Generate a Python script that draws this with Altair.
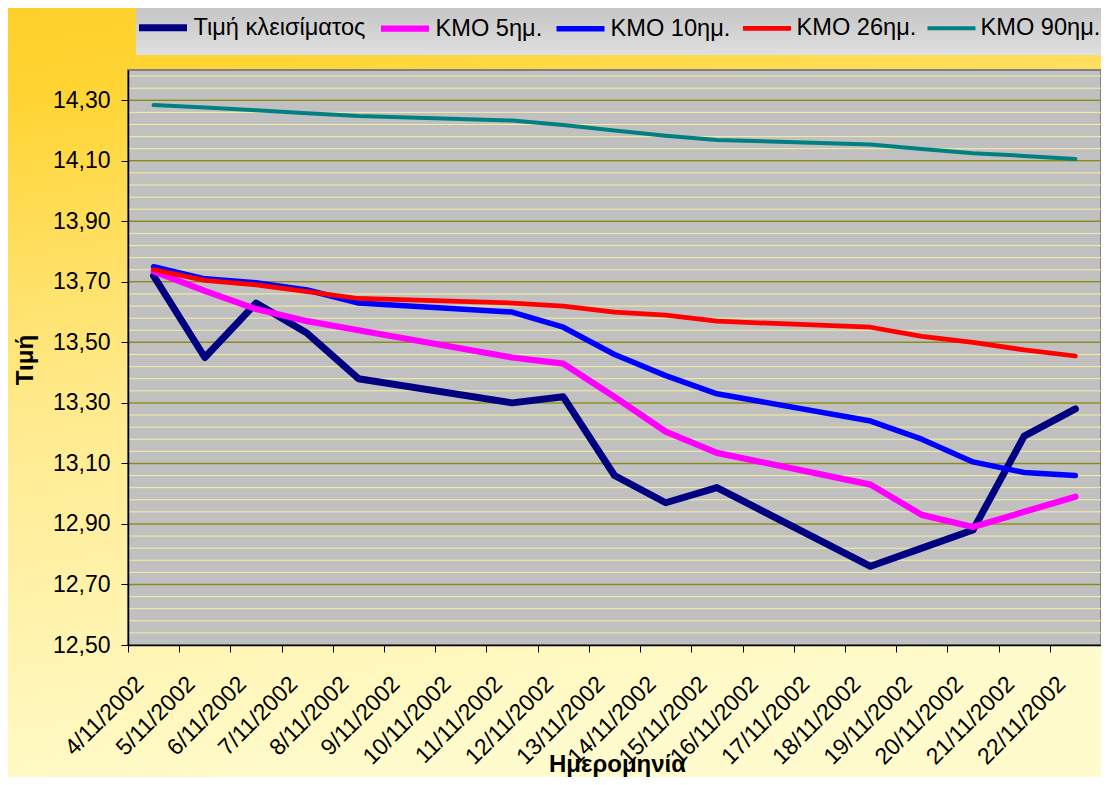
import altair as alt
import pandas as pd

all_dates = ["4/11/2002", "5/11/2002", "6/11/2002", "7/11/2002", "8/11/2002",
             "9/11/2002", "10/11/2002", "11/11/2002", "12/11/2002", "13/11/2002",
             "14/11/2002", "15/11/2002", "16/11/2002", "17/11/2002", "18/11/2002",
             "19/11/2002", "20/11/2002", "21/11/2002", "22/11/2002"]
trade_dates = ["4/11/2002", "5/11/2002", "6/11/2002", "7/11/2002", "8/11/2002",
               "11/11/2002", "12/11/2002", "13/11/2002", "14/11/2002", "15/11/2002",
               "18/11/2002", "19/11/2002", "20/11/2002", "21/11/2002", "22/11/2002"]
series_names = ["Τιμή κλεισίματος", "ΚΜΟ 5ημ.", "ΚΜΟ 10ημ.", "ΚΜΟ 26ημ.", "ΚΜΟ 90ημ."]
series_colors = ["#000080", "#FF00FF", "#0000FF", "#FF0000", "#008080"]
series_widths = [7, 4, 4, 4, 4.5]

close = [13.72, 13.45, 13.63, 13.53, 13.38, 13.30, 13.32, 13.06, 12.97, 13.02,
         12.76, 12.82, 12.88, 13.19, 13.28]
kmo5 = [13.735, 13.67, 13.61, 13.57, 13.54, 13.45, 13.43, 13.32, 13.205, 13.135,
        13.03, 12.93, 12.89, 12.94, 12.99]
kmo10 = [13.75, 13.71, 13.697, 13.673, 13.63, 13.60, 13.55, 13.46, 13.39, 13.33,
         13.24, 13.18, 13.105, 13.07, 13.06]
kmo26 = [13.74, 13.705, 13.69, 13.668, 13.645, 13.63, 13.62, 13.60, 13.59, 13.57,
         13.55, 13.52, 13.50, 13.475, 13.455]
kmo90 = [14.284, 14.276, 14.267, 14.257, 14.248, 14.233, 14.218, 14.20, 14.183, 14.169,
         14.154, 14.139, 14.125, 14.116, 14.106]

major_ticks = [12.5, 12.7, 12.9, 13.1, 13.3, 13.5, 13.7, 13.9, 14.1, 14.3]
minor_ticks = [round(12.5 + 0.04 * i, 2) for i in range(1, 48)]

rows = []
for name, vals in zip(series_names, [close, kmo5, kmo10, kmo26, kmo90]):
    for d, v in zip(trade_dates, vals):
        rows.append({"date": d, "series": name, "value": v})
df = pd.DataFrame(rows)

W, H = 973, 575
one = pd.DataFrame({"a": [0]})

bg = alt.Chart(one).mark_rect(
    fill=alt.Gradient(gradient="linear",
                      stops=[alt.GradientStop(offset=0, color="#FFCF28"),
                             alt.GradientStop(offset=0.12, color="#FFD432"),
                             alt.GradientStop(offset=0.5, color="#FFEA8C"),
                             alt.GradientStop(offset=1, color="#FFFBCC")],
                      x1=0, y1=0, x2=0.25, y2=1)
).encode(x=alt.value(-130), x2=alt.value(W + 10), y=alt.value(-70), y2=alt.value(H + 140))

legend_box = alt.Chart(one).mark_rect(
    fill=alt.Gradient(gradient="linear",
                      stops=[alt.GradientStop(offset=0, color="#C2C2C2"),
                             alt.GradientStop(offset=1, color="#E0E0E0")],
                      x1=0, y1=0, x2=0, y2=1)
).encode(x=alt.value(8), x2=alt.value(W + 20), y=alt.value(-67), y2=alt.value(-15))

plot_bg = alt.Chart(one).mark_rect(fill="#C0C0C0", stroke="#808080", strokeWidth=2).encode(
    x=alt.value(0), x2=alt.value(W), y=alt.value(0), y2=alt.value(H))

yscale = alt.Scale(domain=[12.5, 14.4], nice=False, zero=False)
yaxis = alt.Axis(title="Τιμή", values=major_ticks,
                 labelExpr="replace(format(datum.value, '.2f'), '.', ',')",
                 labelFontSize=23, labelFont="Liberation Sans", labelColor="#000000",
                 labelPadding=11, tickSize=7, tickColor="#000000",
                 domainColor="#000000", domainWidth=1.5, grid=False,
                 titleFontSize=24, titleFont="Liberation Sans", titleFontWeight="bold",
                 titleColor="#000000", titleX=-103, titleY=H / 2 + 2, titleAngle=270,
                 titleAlign="center", titleBaseline="middle", zindex=1)

minor = alt.Chart(pd.DataFrame({"v": minor_ticks})).mark_rule(
    color="#F4F0A0", strokeWidth=1).encode(y=alt.Y("v:Q", scale=yscale, axis=yaxis, title="Τιμή"))
major = alt.Chart(pd.DataFrame({"v": major_ticks[1:]})).mark_rule(
    color="#8A8A22", strokeWidth=1.5).encode(y=alt.Y("v:Q", scale=yscale, axis=yaxis, title="Τιμή"))

lines = alt.Chart(df).mark_line(strokeCap="round", strokeJoin="round").encode(
    x=alt.X("date:O",
            scale=alt.Scale(type="band", domain=all_dates, paddingInner=0, paddingOuter=0),
            sort=all_dates,
            axis=alt.Axis(title="Ημερομηνία", labelAngle=-45, labelAlign="right",
                          labelBaseline="alphabetic", labelFontSize=23, labelPadding=33,
                          labelOffset=-9,
                          labelFont="Liberation Sans", labelColor="#000000",
                          tickBand="extent", tickSize=7, tickColor="#000000",
                          domainColor="#000000", domainWidth=1.5, grid=False,
                          titleFontSize=24, titleFont="Liberation Sans", titleFontWeight="bold",
                          titleColor="#000000", titleX=489, titleAlign="center",
                          titleY=126, titleBaseline="alphabetic",
                          zindex=1)),
    y=alt.Y("value:Q", scale=yscale, axis=yaxis, title="Τιμή"),
    color=alt.Color("series:N", scale=alt.Scale(domain=series_names, range=series_colors),
                    legend=alt.Legend(title=None)),
    strokeWidth=alt.StrokeWidth("series:N",
                                scale=alt.Scale(domain=series_names, range=series_widths),
                                legend=alt.Legend(title=None)),
    order=alt.Order("date_idx:Q"),
).transform_calculate(date_idx=f"indexof({all_dates!r}, datum.date)")

chart = alt.layer(bg, legend_box, plot_bg, minor, major, lines).properties(
    width=W, height=H,
    autosize=alt.AutoSizeParams(type="none"),
    padding={"left": 120, "top": 62, "right": 0, "bottom": 132},
    background="#FFFFFF",
).configure_view(stroke=None).configure_legend(
    orient="none", legendX=7.5, legendY=-70, direction="horizontal",
    symbolType="stroke", symbolSize=2304, labelFontSize=23.6, labelFont="Liberation Sans",
    labelColor="#000000", labelOffset=3, columnPadding=3, padding=0, labelLimit=400,
)

chart.save("out.html", embed_options={"renderer": "svg", "actions": False})
